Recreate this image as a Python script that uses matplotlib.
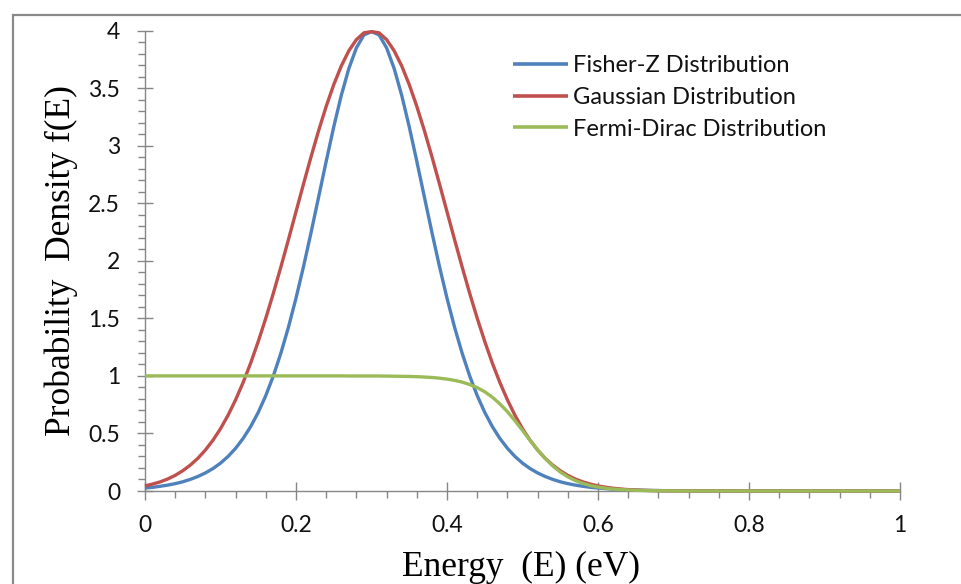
import matplotlib
matplotlib.use("Agg")
import matplotlib.pyplot as plt
from matplotlib.patches import Rectangle
from matplotlib.ticker import MultipleLocator, FuncFormatter

# ---------------- data ----------------
energy = [0.00, 0.01, 0.02, 0.03, 0.04, 0.05, 0.06, 0.07, 0.08, 0.09,
          0.10, 0.11, 0.12, 0.13, 0.14, 0.15, 0.16, 0.17, 0.18, 0.19,
          0.20, 0.21, 0.22, 0.23, 0.24, 0.25, 0.26, 0.27, 0.28, 0.29,
          0.30, 0.31, 0.32, 0.33, 0.34, 0.35, 0.36, 0.37, 0.38, 0.39,
          0.40, 0.41, 0.42, 0.43, 0.44, 0.45, 0.46, 0.47, 0.48, 0.49,
          0.50, 0.51, 0.52, 0.53, 0.54, 0.55, 0.56, 0.57, 0.58, 0.59,
          0.60, 0.61, 0.62, 0.63, 0.64, 0.65, 0.66, 0.67, 0.68, 0.69,
          0.70, 0.80, 0.90, 1.00]

fisher_z = [0.026, 0.032, 0.041, 0.051, 0.064, 0.080, 0.101, 0.126, 0.157, 0.195,
            0.242, 0.300, 0.371, 0.457, 0.560, 0.683, 0.829, 1.000, 1.198, 1.423,
            1.675, 1.951, 2.247, 2.555, 2.864, 3.163, 3.437, 3.670, 3.849, 3.962,
            3.990, 3.962, 3.849, 3.670, 3.437, 3.163, 2.864, 2.555, 2.247, 1.951,
            1.675, 1.423, 1.198, 1.000, 0.829, 0.683, 0.560, 0.457, 0.371, 0.300,
            0.242, 0.195, 0.157, 0.126, 0.101, 0.080, 0.064, 0.051, 0.041, 0.032,
            0.026, 0.021, 0.016, 0.013, 0.010, 0.008, 0.006, 0.005, 0.004, 0.003,
            0.003, 0.000, 0.000, 0.000]

gaussian = [0.044, 0.060, 0.079, 0.104, 0.136, 0.176, 0.225, 0.284, 0.356, 0.441,
            0.541, 0.658, 0.792, 0.943, 1.112, 1.299, 1.501, 1.718, 1.947, 2.184,
            2.426, 2.668, 2.905, 3.131, 3.341, 3.530, 3.692, 3.824, 3.921, 3.980,
            3.990, 3.980, 3.921, 3.824, 3.692, 3.530, 3.341, 3.131, 2.905, 2.668,
            2.426, 2.184, 1.947, 1.718, 1.501, 1.299, 1.112, 0.943, 0.792, 0.658,
            0.541, 0.441, 0.356, 0.284, 0.225, 0.176, 0.136, 0.104, 0.079, 0.060,
            0.044, 0.033, 0.024, 0.017, 0.012, 0.009, 0.006, 0.004, 0.003, 0.002,
            0.001, 0.000, 0.000, 0.000]

fermi_dirac = [1.000, 1.000, 1.000, 1.000, 1.000, 1.000, 1.000, 1.000, 1.000, 1.000,
               1.000, 1.000, 1.000, 1.000, 1.000, 1.000, 1.000, 1.000, 1.000, 1.000,
               1.000, 1.000, 1.000, 1.000, 1.000, 1.000, 1.000, 0.999, 0.999, 0.999,
               0.999, 0.999, 0.998, 0.997, 0.996, 0.995, 0.993, 0.990, 0.986, 0.980,
               0.972, 0.961, 0.946, 0.925, 0.898, 0.862, 0.815, 0.757, 0.689, 0.610,
               0.526, 0.440, 0.358, 0.283, 0.218, 0.165, 0.123, 0.090, 0.066, 0.047,
               0.034, 0.024, 0.017, 0.012, 0.009, 0.006, 0.004, 0.003, 0.002, 0.002,
               0.001, 0.000, 0.000, 0.000]

series_names = ["Fisher-Z Distribution", "Gaussian Distribution", "Fermi-Dirac Distribution"]
x_label = "Energy  (E) (eV)"
y_label = "Probability  Density f(E)"

# ---------------- styling ----------------
colors = ["#4F81BD", "#C0504D", "#9BBB59"]
sans = ["Lato", "DejaVu Sans"]
serif = ["Liberation Serif", "DejaVu Serif"]
axis_gray = "#868686"

W, H = 961, 584
fig = plt.figure(figsize=(W / 100, H / 100), dpi=100)
fig.patch.set_facecolor("white")

# outer chart border (cropped at right/bottom)
fig.add_artist(Rectangle((12.5 / W, -0.2), 1.5, 1 - 14.5 / H + 0.2,
                         transform=fig.transFigure, fill=False,
                         edgecolor="#8a8a8a", linewidth=1.6))

ax = fig.add_axes([145 / W, 1 - 491 / H, (900 - 145) / W, (491 - 30.5) / H])
ax.set_facecolor("none")

for ys, c, name in zip([fisher_z, gaussian, fermi_dirac], colors, series_names):
    ax.plot(energy, ys, color=c, lw=2.4, label=name, clip_on=False,
            solid_capstyle="butt", zorder=3)

ax.set_xlim(0, 1)
ax.set_ylim(0, 4)

for s in ["top", "right"]:
    ax.spines[s].set_visible(False)
for s in ["left", "bottom"]:
    ax.spines[s].set_color(axis_gray)
    ax.spines[s].set_linewidth(1.0)

ax.xaxis.set_major_locator(MultipleLocator(0.2))
ax.xaxis.set_minor_locator(MultipleLocator(0.04))
ax.yaxis.set_major_locator(MultipleLocator(0.5))
ax.yaxis.set_minor_locator(MultipleLocator(0.1))

fmt = FuncFormatter(lambda v, p: ("%g" % round(v, 2)))
ax.xaxis.set_major_formatter(fmt)
ax.yaxis.set_major_formatter(fmt)

ax.tick_params(axis="y", which="major", direction="inout", length=12,
               width=1.0, color=axis_gray, pad=12, labelsize=16.5)
ax.tick_params(axis="y", which="minor", direction="out", length=5,
               width=1.0, color=axis_gray)
ax.tick_params(axis="x", which="major", direction="inout", length=13,
               width=1.0, color=axis_gray, pad=11, labelsize=16.5)
ax.tick_params(axis="x", which="minor", direction="out", length=5,
               width=1.0, color=axis_gray)
for lab in ax.get_xticklabels() + ax.get_yticklabels():
    lab.set_family(sans)
    lab.set_color("#111111")

# axis titles
fig.text(521 / W, 1 - 576 / H, x_label, ha="center", va="baseline",
         family=serif, fontsize=25.5, color="black")
fig.text(61 / W, 1 - 260.75 / H, y_label, ha="center", va="center",
         rotation=90, family=serif, fontsize=25.5, color="black")

leg = ax.legend(loc="upper left", bbox_to_anchor=(513 / W, 1 - 55.5 / H),
                bbox_transform=fig.transFigure, frameon=False, borderpad=0,
                borderaxespad=0, handlelength=2.33, handletextpad=0.22,
                labelspacing=0.45, prop={"family": sans, "size": 17})
for t in leg.get_texts():
    t.set_color("#111111")
for l in leg.get_lines():
    l.set_linewidth(2.6)

fig.savefig("out.png", dpi=100, facecolor="white")
